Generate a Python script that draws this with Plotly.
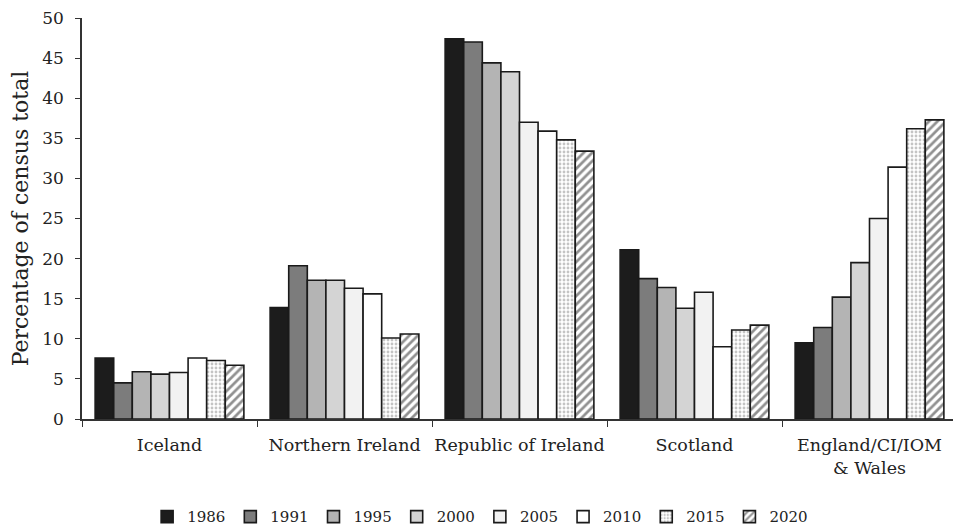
import plotly.graph_objects as go

categories = ["Iceland", "Northern Ireland", "Republic of Ireland", "Scotland", "England/CI/IOM<br>& Wales"]
years = ["1986", "1991", "1995", "2000", "2005", "2010", "2015", "2020"]

v1986 = [7.6, 13.9, 47.4, 21.1, 9.5]
v1991 = [4.5, 19.1, 47.0, 17.5, 11.4]
v1995 = [5.9, 17.3, 44.4, 16.4, 15.2]
v2000 = [5.6, 17.3, 43.3, 13.8, 19.5]
v2005 = [5.8, 16.3, 37.0, 15.8, 25.0]
v2010 = [7.6, 15.6, 35.9, 9.0, 31.4]
v2015 = [7.3, 10.1, 34.8, 11.1, 36.2]
v2020 = [6.7, 10.6, 33.4, 11.7, 37.3]

series = [v1986, v1991, v1995, v2000, v2005, v2010, v2015, v2020]
fills = ["#1c1c1c", "#7c7c7c", "#b4b4b4", "#d4d4d4", "#f2f2f2", "#ffffff", "#ffffff", "#ffffff"]
patterns = ["", "", "", "", "", "", ".", "/"]
pat_colors = ["#000", "#000", "#000", "#000", "#000", "#000", "#8a8a8a", "#222222"]

FONT = "DejaVu Serif"

fig = go.Figure()
for yr, vals, fc, pat, pc in zip(years, series, fills, patterns, pat_colors):
    marker = dict(color=fc, line=dict(color="#1a1a1a", width=1.6))
    if pat:
        marker["pattern"] = dict(shape=pat, fgcolor=pc, bgcolor="#ffffff",
                                 size=4 if pat == "." else 6, solidity=0.4 if pat == "." else 0.45)
    fig.add_trace(go.Bar(name=yr, x=categories, y=vals, marker=marker))

fig.update_layout(
    barmode="group",
    bargap=0.15,
    bargroupgap=0,
    width=953, height=519,
    margin=dict(l=74, r=4, t=10, b=108, autoexpand=False),
    paper_bgcolor="white", plot_bgcolor="white",
    font=dict(family=FONT, size=17, color="#222"),
    legend=dict(orientation="h", x=0.455, xanchor="center", y=-0.244, yanchor="middle",
                font=dict(family=FONT, size=15), traceorder="normal",
                itemwidth=30, tracegroupgap=0),
    showlegend=True,
)
fig.update_xaxes(
    showline=True, linecolor="#333", linewidth=1.5,
    ticks="outside", tickson="boundaries", ticklen=6, tickcolor="#333",
    tickfont=dict(family=FONT, size=17.5), showgrid=False, automargin=False,
    ticklabelstandoff=9, tickangle=0, ticklabeloverflow="allow",
)
fig.update_yaxes(
    range=[0, 50], dtick=5, showline=True, linecolor="#333", linewidth=1.5,
    ticks="outside", ticklen=5, tickcolor="#333", showgrid=False, zeroline=False,
    tickfont=dict(family=FONT, size=17), automargin=False, ticklabelstandoff=8,
    ticklabeloverflow="allow",
    title=dict(text="Percentage of census total", font=dict(family=FONT, size=22), standoff=14),
)

fig.write_html("out.html")
